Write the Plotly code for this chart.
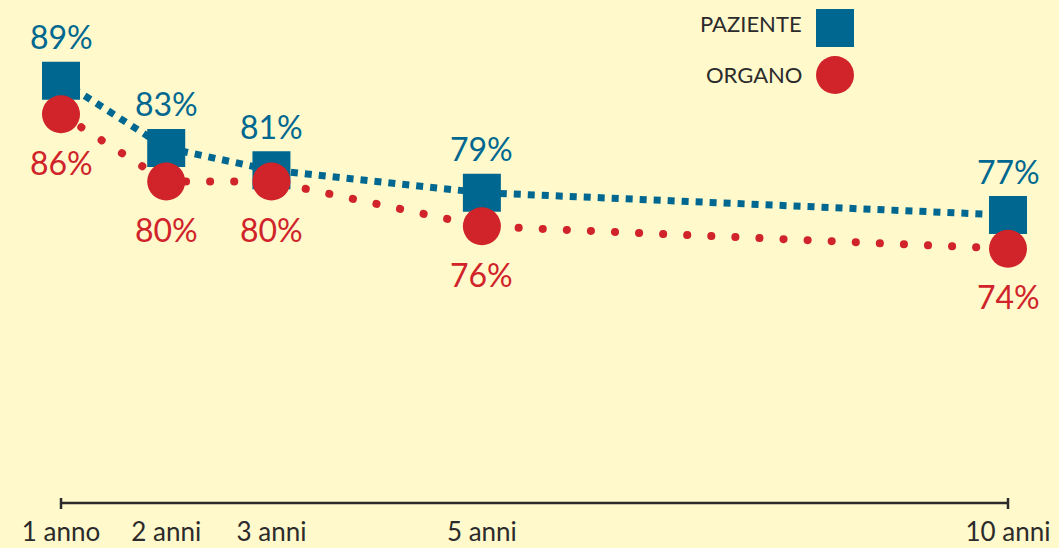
import plotly.graph_objects as go

# Data
anni = [1, 2, 3, 5, 10]
tick_labels = ["1 anno", "2 anni", "3 anni", "5 anni", "10 anni"]
paziente = [89, 83, 81, 79, 77]
organo = [86, 80, 80, 76, 74]

BLUE = "#006890"
RED = "#D0232A"
BG = "#FFF9CB"
DARK = "#2B2B2B"
FONT = "Lato"

fig = go.Figure()

fig.add_trace(go.Scatter(
    x=anni, y=paziente, mode="lines+markers", name="PAZIENTE",
    line=dict(color=BLUE, width=7, dash="7px,7px"),
    marker=dict(symbol="square", size=38, color=BLUE, line=dict(width=0)),
    showlegend=False, hoverinfo="skip"))

fig.add_trace(go.Scatter(
    x=anni, y=organo, mode="lines+markers", name="ORGANO",
    line=dict(color=RED, width=8, dash="dot"),
    marker=dict(symbol="circle", size=38, color=RED, line=dict(width=0)),
    showlegend=False, hoverinfo="skip"))

annotations = []
for x, v in zip(anni, paziente):
    annotations.append(dict(x=x, y=v, xref="x", yref="y", text=f"{v}%",
                            showarrow=False, yshift=44,
                            font=dict(family=FONT, size=32, color=BLUE)))
for x, v in zip(anni, organo):
    annotations.append(dict(x=x, y=v, xref="x", yref="y", text=f"{v}%",
                            showarrow=False, yshift=-48,
                            font=dict(family=FONT, size=32, color=RED)))

PH = 503.0
# legend texts
annotations.append(dict(x=804 / 1059, y=1 - 24 / PH, xref="paper", yref="paper",
                        xanchor="right", yanchor="middle", showarrow=False,
                        text="PAZIENTE", font=dict(family=FONT, size=22, color=DARK)))
annotations.append(dict(x=804 / 1059, y=1 - 74 / PH, xref="paper", yref="paper",
                        xanchor="right", yanchor="middle", showarrow=False,
                        text="ORGANO", font=dict(family=FONT, size=22, color=DARK)))

shapes = [
    # legend square
    dict(type="rect", xref="paper", yref="paper",
         x0=816 / 1059, x1=854 / 1059, y0=1 - 47 / PH, y1=1 - 9 / PH,
         fillcolor=BLUE, line=dict(width=0)),
    # legend circle
    dict(type="circle", xref="paper", yref="paper",
         x0=816 / 1059, x1=854 / 1059, y0=1 - 94 / PH, y1=1 - 56 / PH,
         fillcolor=RED, line=dict(width=0)),
    # axis line from first to last year
    dict(type="line", xref="x", yref="paper", x0=anni[0], x1=anni[-1], y0=0, y1=0,
         line=dict(color=DARK, width=2.5)),
    # end ticks
    dict(type="line", xref="x", yref="paper", x0=anni[0], x1=anni[0],
         y0=-6 / PH, y1=5 / PH, line=dict(color=DARK, width=2.5)),
    dict(type="line", xref="x", yref="paper", x0=anni[-1], x1=anni[-1],
         y0=-6 / PH, y1=5 / PH, line=dict(color=DARK, width=2.5)),
]

px_per_year = (1008 - 61) / 9.0
x_lo = 1 - 61 / px_per_year
x_hi = 10 + (1059 - 1008) / px_per_year

fig.update_layout(
    width=1059, height=548,
    margin=dict(l=0, r=0, t=0, b=45),
    paper_bgcolor=BG, plot_bgcolor=BG,
    xaxis=dict(range=[x_lo, x_hi], tickvals=anni, ticktext=tick_labels,
               showgrid=False, zeroline=False, showline=False, ticks="",
               ticklabelstandoff=11,
               tickfont=dict(family=FONT, size=26, color=DARK), fixedrange=True),
    yaxis=dict(range=[51.3, 96.2], visible=False, fixedrange=True),
    annotations=annotations, shapes=shapes,
    showlegend=False,
)

post = """
document.body.style.margin = '0';
document.body.style.padding = '0';
document.body.style.background = '#FFF9CB';
var gd = document.getElementById('{plot_id}');
function roundDots(){
  var traces = gd.querySelectorAll('.scatterlayer .trace');
  if (traces.length > 1) {
    var p = traces[1].querySelector('path.js-line');
    if (p) {
      p.style.strokeLinecap = 'round';
      p.style.strokeDasharray = '0.1px,24px';
    }
  }
}
roundDots();
gd.on && gd.on('plotly_afterplot', roundDots);
"""

fig.write_html("out.html", post_script=post, config={"displayModeBar": False})
